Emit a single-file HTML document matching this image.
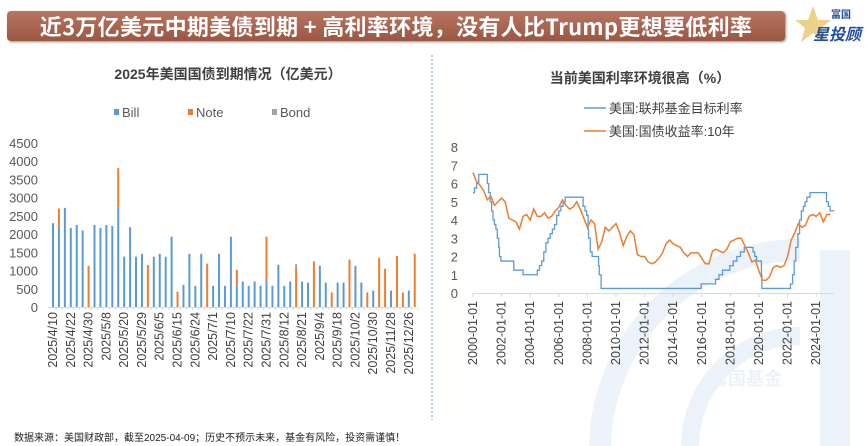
<!DOCTYPE html>
<html><head><meta charset="utf-8">
<style>
body{margin:0;width:868px;height:446px;background:#fff;overflow:hidden;font-family:"Liberation Sans","Noto Sans CJK SC",sans-serif;position:relative}
.banner{position:absolute;left:7px;top:11px;width:778px;height:30px;border-radius:4px;background:linear-gradient(#b87561,#9a5742);box-shadow:1px 1px 2px #888;color:#fff;font-weight:bold;font-size:22px;line-height:30px;text-align:center;font-family:"Noto Sans CJK SC",sans-serif;letter-spacing:0.3px}
.logo{position:absolute;left:793px;top:4px;width:72px;height:40px;overflow:hidden}
.foot{position:absolute;left:14px;top:429px;font-size:10px;color:#222;font-family:"Liberation Sans","Noto Sans CJK SC",sans-serif}
svg text{font-family:"Liberation Sans","Noto Sans CJK SC",sans-serif}
</style></head><body>
<div class="banner">近3万亿美元中期美债到期 + 高利率环境，没有人比Trump更想要低利率</div>
<div class="logo">
<svg width="72" height="40"><polygon points="20,2 25,16 38,16 28,24 32,38 20,29 8,38 12,24 2,16 15,16" fill="#e9c56a" opacity="0.8"/><text x="38" y="14" font-size="10" font-weight="bold" fill="#1f4e9c">富国</text><text x="20" y="36" font-size="16" font-weight="bold" fill="#1f4e9c" font-style="italic">星投顾</text></svg>
</div>
<svg id="main" width="868" height="446" style="position:absolute;left:0;top:0;pointer-events:none">
<g opacity="0.1">
<path d="M600,446 A200,200 0 0 1 800,250" stroke="#4f8ad0" stroke-width="22" fill="none"/>
<path d="M690,446 A110,110 0 0 1 800,336" stroke="#4f8ad0" stroke-width="18" fill="none"/>
<rect x="820" y="250" width="30" height="196" fill="#4f8ad0"/>
<text x="710" y="385" font-size="18" fill="#4f8ad0" font-weight="bold">富国基金</text>
</g>
<line x1="432" y1="55" x2="432" y2="420" stroke="#7a9cc6" stroke-dasharray="2,2"/>
<text x="228" y="79" text-anchor="middle" font-size="14" font-weight="bold" fill="#404040">2025年美国国债到期情况（亿美元）</text>
<g id="leftLegend"></g>
<g id="left"></g>
<text x="640" y="83" text-anchor="middle" font-size="14" font-weight="bold" fill="#404040">当前美国利率环境很高（%）</text>
<g id="right"></g>
</svg>
<div class="foot">数据来源：美国财政部，截至2025-04-09；历史不预示未来，基金有风险，投资需谨慎！</div>
<script>
const NS="http://www.w3.org/2000/svg";
function mk(t,a,p){const e=document.createElementNS(NS,t);for(const k in a)e.setAttribute(k,a[k]);p.appendChild(e);return e;}
// ---- Left chart data ----
const dateLabels=["2025/4/10","2025/4/22","2025/4/30","2025/5/8","2025/5/20","2025/5/29","2025/6/5","2025/6/15","2025/6/24","2025/7/1","2025/7/10","2025/7/22","2025/7/31","2025/8/12","2025/8/21","2025/9/4","2025/9/18","2025/10/2","2025/10/30","2025/11/28","2025/12/26"];
const billValues=[2300,2200,2720,2170,2250,2100,0,2250,2170,2250,2220,2730,1380,2190,1380,1460,0,1380,1460,1380,1930,0,610,1460,580,1460,0,580,1460,580,1930,580,700,580,700,580,700,580,1160,580,700,0,700,670,0,1130,670,0,670,670,0,1130,670,0,450,0,0,450,0,0,450,0];
const noteValues=[0,500,0,0,0,0,1130,0,0,0,0,1080,0,0,0,0,1150,0,0,0,0,420,0,0,0,0,1190,0,0,0,0,440,0,0,0,0,1230,0,0,0,0,1080,0,0,1250,0,0,400,0,0,1300,0,0,400,0,1350,1050,0,1400,400,0,1460];
const bondValues=[0,0,0,0,0,0,0,0,0,0,0,0,0,0,0,0,0,0,0,0,0,0,0,0,0,0,0,0,0,0,0,0,0,0,0,0,0,0,0,0,0,100,0,0,0,0,0,0,0,0,0,0,0,0,0,0,0,0,0,0,0,0];
const leftTicks=[0,500,1000,1500,2000,2500,3000,3500,4000,4500];
const L={x0:53,step:5.93,y0:307,yTop:143,max:4500};
const ly=v=>L.y0-(v/L.max)*(L.y0-L.yTop);
const lx=i=>L.x0+i*L.step;
const left=document.getElementById('left');
leftTicks.forEach(t=>{const e=mk('text',{x:38,y:ly(t)+5,'text-anchor':'end','font-size':13,fill:'#595959'},left);e.textContent=t;

});
mk('line',{x1:48,x2:413,y1:L.y0+0.5,y2:L.y0+0.5,stroke:'#d9d9d9'},left);
billValues.forEach((b,i)=>{
 const x=lx(i)-1;let base=0;
 [[b,'#5b9bd5','bill'],[noteValues[i],'#ed7d31','note'],[bondValues[i],'#a5a5a5','bond']].forEach(([v,c,n])=>{
  if(v>0){const r=mk('rect',{x:x,y:ly(base+v),width:2,height:ly(base)-ly(base+v),fill:c},left);
  
  base+=v;}
 });
 mk('line',{x1:lx(i)+3,x2:lx(i)+3,y1:L.y0,y2:L.y0+3,stroke:'#d9d9d9'},left);
});
dateLabels.forEach((d,k)=>{const x=lx(k*3)+4;const e=mk('text',{x:0,y:0,transform:`translate(${x},${L.y0+5}) rotate(-90)`,'text-anchor':'end','font-size':12.5,fill:'#404040'},left);e.textContent=d;

});
const lg=document.getElementById('leftLegend');
[["Bill","#5b9bd5",122],["Note","#ed7d31",196],["Bond","#a5a5a5",280]].forEach(([n,c,x])=>{
 const g=mk('g',{},lg);
 
 
 mk('rect',{x:x-8,y:109,width:5,height:6,fill:c},g);
 const t=mk('text',{x:x,y:117,'font-size':13,fill:'#595959'},g);t.textContent=n;});
// ---- Right chart data ----
const yieldYears=[2000,2001,2002,2003,2004,2005,2006,2007,2008,2009,2010,2011,2012,2013,2014,2015,2016,2017,2018,2019,2020,2021,2022,2023,2024];
const yieldValues=[6.6,6.1,5.9,5.6, 5.1,5.3,4.8,5.0, 5.2,5.0,4.1,4.0, 3.9,3.5,4.2,4.3, 4.0,4.6,4.2,4.2, 4.4,4.1,4.2,4.5, 4.7,5.1,4.8,4.6, 4.7,5.0,4.6,4.1, 3.6,4.0,3.8,2.4, 2.8,3.6,3.4,3.6, 3.8,3.3,2.6,3.1, 3.4,3.2,2.1,2.0, 2.0,1.7,1.6,1.7, 1.9,2.2,2.7,2.9, 2.7,2.6,2.5,2.2, 2.0,2.2,2.2,2.2, 1.9,1.6,1.6,2.3, 2.4,2.3,2.2,2.4, 2.8,2.9,3.0,3.0, 2.6,2.2,1.7,1.8, 1.2,0.7,0.7,0.9, 1.4,1.5,1.4,1.5, 2.0,2.9,3.3,3.8, 3.6,3.7,4.2,4.3, 4.2,4.4,3.9,4.3, 4.3];
const fedDates=[2000.0,2000.1,2000.25,2000.4,2001.0,2001.1,2001.2,2001.3,2001.4,2001.5,2001.6,2001.7,2001.8,2001.85,2001.95,2002.85,2003.5,2004.5,2004.65,2004.8,2004.95,2005.1,2005.25,2005.4,2005.55,2005.7,2005.85,2006.0,2006.15,2006.3,2006.45,2007.7,2007.83,2007.95,2008.05,2008.08,2008.2,2008.33,2008.78,2008.83,2008.96,2015.96,2016.96,2017.2,2017.45,2017.96,2018.2,2018.45,2018.7,2018.97,2019.58,2019.7,2019.83,2020.17,2020.2,2022.2,2022.35,2022.46,2022.57,2022.72,2022.84,2022.96,2023.1,2023.22,2023.35,2023.57,2024.72,2024.85,2024.97,2025.27];
const fedValues=[5.5,5.75,6.0,6.5,6.0,5.5,5.0,4.5,4.0,3.75,3.5,3.0,2.5,2.0,1.75,1.25,1.0,1.25,1.5,1.75,2.25,2.75,3.0,3.25,3.5,3.75,4.25,4.5,4.75,5.0,5.25,4.75,4.5,4.25,3.5,3.0,2.25,2.0,1.5,1.0,0.25,0.5,0.75,1.0,1.25,1.5,1.75,2.0,2.25,2.5,2.25,2.0,1.75,1.0,0.25,0.5,1.0,1.75,2.5,3.25,4.0,4.5,4.75,5.0,5.25,5.5,5.0,4.75,4.5,4.5];
const rightYTicks=[0,1,2,3,4,5,6,7,8];
const rightXTicks=["2000-01-01","2002-01-01","2004-01-01","2006-01-01","2008-01-01","2010-01-01","2012-01-01","2014-01-01","2016-01-01","2018-01-01","2020-01-01","2022-01-01","2024-01-01"];
const R={x0:473,xPerYear:14.3,y0:293,yPer:18.25};
const rx=t=>R.x0+(t-2000)*R.xPerYear;
const ry=v=>R.y0-v*R.yPer;
const right=document.getElementById('right');
rightYTicks.forEach(t=>{const e=mk('text',{x:458,y:ry(t)+5,'text-anchor':'end','font-size':13,fill:'#595959'},right);e.textContent=t;

});
mk('line',{x1:473,x2:834,y1:R.y0+0.5,y2:R.y0+0.5,stroke:'#d9d9d9'},right);
rightXTicks.forEach(s=>{const yr=+s.slice(0,4);const x=rx(yr);
 mk('line',{x1:x,x2:x,y1:R.y0,y2:R.y0+4,stroke:'#d9d9d9'},right);
 const e=mk('text',{x:0,y:0,transform:`translate(${x+4},${R.y0+8}) rotate(-90)`,'text-anchor':'end','font-size':12.5,fill:'#404040'},right);e.textContent=s;
 
 });
let fp=`M${rx(fedDates[0])},${ry(fedValues[0])}`;
for(let i=1;i<fedDates.length;i++){fp+=` H${rx(fedDates[i])} V${ry(fedValues[i])}`;}
const fl=mk('path',{d:fp,fill:'none',stroke:'#5b9bd5','stroke-width':1.3},right);


let yp='';yieldValues.forEach((v,i)=>{yp+=(i?' L':'M')+rx(2000+i*0.25)+','+ry(v);});
const yl=mk('path',{d:yp,fill:'none',stroke:'#ed7d31','stroke-width':1.5},right);


[["美国:联邦基金目标利率","#5b9bd5",108],["美国:国债收益率:10年","#ed7d31",131]].forEach(([n,c,y],i)=>{
 const g=mk('g',{},right);
 
 
 mk('line',{x1:584,x2:606,y1:y,y2:y,stroke:c,'stroke-width':1.5},g);
 const t=mk('text',{x:609,y:y+5,'font-size':13,fill:'#404040'},g);t.textContent=n;});
</script>
</body></html>
